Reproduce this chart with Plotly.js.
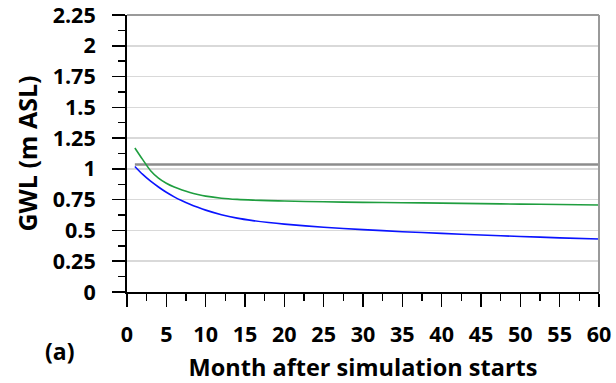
<!DOCTYPE html>
<html>
<head>
<meta charset="utf-8">
<script src="https://cdn.plot.ly/plotly-3.0.1.min.js"></script>
<style>html,body{margin:0;padding:0;background:#fff;}#chart{width:616px;height:383px;}</style>
</head>
<body>
<div id="chart"></div>
<script>
const months = [1,2,3,4,5,6,7,8,9,10,12,14,16,18,20,25,30,35,40,45,50,55,60];
const blueGWL = [1.02,0.955,0.90,0.853,0.81,0.773,0.741,0.713,0.688,0.665,0.628,0.60,0.58,0.564,0.551,0.526,0.507,0.49,0.476,0.463,0.451,0.44,0.43];
const greenGWL = [1.17,1.075,0.985,0.925,0.883,0.852,0.828,0.808,0.792,0.779,0.762,0.752,0.746,0.742,0.739,0.733,0.728,0.725,0.722,0.718,0.714,0.711,0.707];
const grayMonths = [1,60];
const grayGWL = [1.035,1.035];
const yTicks = [0,0.25,0.5,0.75,1,1.25,1.5,1.75,2,2.25];
const yTickText = ['0','0.25','0.5','0.75','1','1.25','1.5','1.75','2','2.25'];
const xTicks = [0,5,10,15,20,25,30,35,40,45,50,55,60];

const fontFam = '"Open Sans", sans-serif';
const traces = [
  {x: grayMonths, y: grayGWL, mode: 'lines', line: {color: '#8c8c8c', width: 2.5}, hoverinfo: 'skip'},
  {x: months, y: greenGWL, mode: 'lines', line: {color: '#1f9e3f', width: 1.6, shape: 'spline', smoothing: 0.8}},
  {x: months, y: blueGWL, mode: 'lines', line: {color: '#0a14ff', width: 1.6, shape: 'spline', smoothing: 0.8}}
];
const layout = {
  width: 616, height: 383,
  margin: {l: 127, r: 17, t: 15, b: 91},
  showlegend: false,
  paper_bgcolor: '#fff', plot_bgcolor: '#fff',
  font: {family: fontFam, size: 18, color: '#000', weight: 700},
  xaxis: {
    range: [0, 60], tickvals: xTicks, ticktext: xTicks.map(String),
    ticks: 'outside', ticklen: 13, tickwidth: 1.5, tickcolor: '#000',
    ticklabelstandoff: 9, ticklabeloverflow: 'allow',
    showline: true, linecolor: '#000', linewidth: 2,
    showgrid: false, zeroline: false,
    minor: {dtick: 2.5, ticks: 'outside', ticklen: 7, tickwidth: 1.5, tickcolor: '#000', showgrid: false},
    tickfont: {family: fontFam, size: 21.5, color: '#000', weight: 700},
    title: {text: 'Month after simulation starts', font: {family: fontFam, size: 23.5, color: '#000', weight: 700}, standoff: 13}
  },
  yaxis: {
    range: [0, 2.25], tickvals: yTicks, ticktext: yTickText,
    ticks: 'outside', ticklen: 13, tickwidth: 1.5, tickcolor: '#000',
    ticklabelstandoff: 12, ticklabeloverflow: 'allow',
    showline: true, linecolor: '#000', linewidth: 2,
    showgrid: true, gridcolor: '#d9d9d9', gridwidth: 1.5, zeroline: false,
    minor: {dtick: 0.125, ticks: 'outside', ticklen: 7, tickwidth: 1.5, tickcolor: '#000', showgrid: false},
    tickfont: {family: fontFam, size: 21.5, color: '#000', weight: 700},
    title: {text: 'GWL (m ASL)', font: {family: fontFam, size: 25, color: '#000', weight: 700}, standoff: 8}
  },
  shapes: [
    {type: 'line', xref: 'paper', yref: 'paper', x0: 0, x1: 1, y0: 1, y1: 1, line: {color: '#9a9a9a', width: 2}},
    {type: 'line', xref: 'paper', yref: 'paper', x0: 1, x1: 1, y0: 0, y1: 1, line: {color: '#9a9a9a', width: 2}}
  ],
  annotations: [
    {text: '(a)', xref: 'paper', yref: 'paper', x: -0.144, y: -0.213, xanchor: 'center', yanchor: 'middle', showarrow: false,
     font: {family: fontFam, size: 23, color: '#000', weight: 700}}
  ]
};
Plotly.newPlot('chart', traces, layout, {displayModeBar: false, staticPlot: true});
</script>
</body>
</html>
